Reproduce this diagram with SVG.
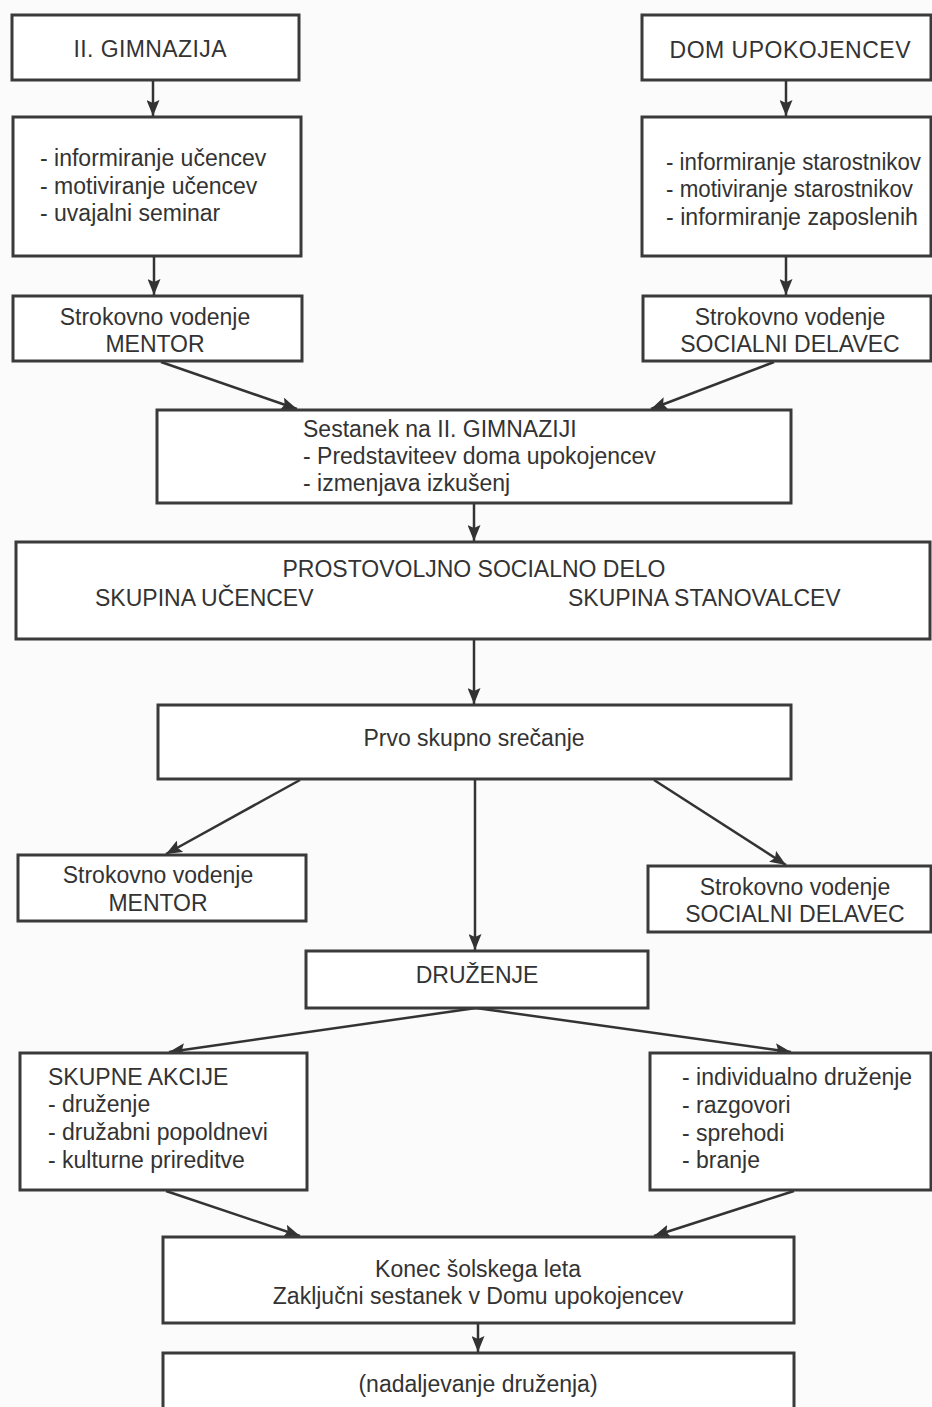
<svg xmlns="http://www.w3.org/2000/svg" width="932" height="1407" viewBox="0 0 932 1407">
<defs>
<marker id="ah" viewBox="0 0 16 13" refX="16" refY="6.5" markerWidth="16" markerHeight="13" markerUnits="userSpaceOnUse" orient="auto">
<path d="M0,0 L16,6.5 L0,13 L3,6.5 Z" fill="#333"/>
</marker>
<style>
.box{fill:#fff;stroke:#3a3a3a;stroke-width:3}
.t{font-family:"Liberation Sans",Arial,Helvetica,sans-serif;font-size:23px;fill:#333}
.m{text-anchor:middle}
.c{stroke:#333;stroke-width:2.5;fill:none;marker-end:url(#ah)}
</style>
</defs>
<rect width="932" height="1407" fill="#fbfbfb"/>

<g id="connectors">
<line class="c" x1="153" y1="80" x2="153" y2="116"/>
<line class="c" x1="154" y1="256" x2="154" y2="295"/>
<line class="c" x1="786" y1="80" x2="786" y2="116"/>
<line class="c" x1="786" y1="256" x2="786" y2="295"/>
<line class="c" x1="161" y1="362" x2="297" y2="409"/>
<line class="c" x1="774" y1="362" x2="651" y2="409"/>
<line class="c" x1="474" y1="503" x2="474" y2="541"/>
<line class="c" x1="474" y1="640" x2="474" y2="704"/>
<line class="c" x1="300" y1="780" x2="166" y2="854"/>
<line class="c" x1="654" y1="780" x2="786" y2="865"/>
<line class="c" x1="475" y1="780" x2="475" y2="950"/>
<line class="c" x1="476" y1="1008" x2="169" y2="1052"/>
<line class="c" x1="476" y1="1008" x2="791" y2="1052"/>
<line class="c" x1="166" y1="1191" x2="300" y2="1236"/>
<line class="c" x1="794" y1="1191" x2="654" y2="1236"/>
<line class="c" x1="478" y1="1324" x2="478" y2="1352"/>
</g>

<g id="gimnazija">
<rect class="box" x="12" y="15" width="287" height="65"/>
<text class="t m" x="150" y="57" textLength="153">II. GIMNAZIJA</text>
</g>
<g id="dom">
<rect class="box" x="642" y="15" width="289" height="65"/>
<text class="t m" x="790" y="58" textLength="241">DOM UPOKOJENCEV</text>
</g>
<g id="ucenci-info">
<rect class="box" x="13" y="117" width="288" height="139"/>
<text class="t" x="40" y="166">- informiranje učencev</text>
<text class="t" x="40" y="194">- motiviranje učencev</text>
<text class="t" x="40" y="221">- uvajalni seminar</text>
</g>
<g id="starostniki-info">
<rect class="box" x="642" y="117" width="289" height="139"/>
<text class="t" x="666" y="170" textLength="255" lengthAdjust="spacingAndGlyphs">- informiranje starostnikov</text>
<text class="t" x="666" y="197" textLength="247" lengthAdjust="spacingAndGlyphs">- motiviranje starostnikov</text>
<text class="t" x="666" y="225" textLength="252" lengthAdjust="spacingAndGlyphs">- informiranje zaposlenih</text>
</g>
<g id="mentor1">
<rect class="box" x="13" y="296" width="289" height="65"/>
<text class="t m" x="155" y="325">Strokovno vodenje</text>
<text class="t m" x="155" y="352">MENTOR</text>
</g>
<g id="socialni1">
<rect class="box" x="643" y="296" width="288" height="65"/>
<text class="t m" x="790" y="325">Strokovno vodenje</text>
<text class="t m" x="790" y="352">SOCIALNI DELAVEC</text>
</g>
<g id="sestanek">
<rect class="box" x="157" y="410" width="634" height="93"/>
<text class="t" x="303" y="437">Sestanek na II. GIMNAZIJI</text>
<text class="t" x="303" y="464">- Predstaviteev doma upokojencev</text>
<text class="t" x="303" y="491">- izmenjava izkušenj</text>
</g>
<g id="prostovoljno">
<rect class="box" x="16" y="542" width="914" height="97"/>
<text class="t m" x="474" y="577">PROSTOVOLJNO SOCIALNO DELO</text>
<text class="t" x="95" y="606">SKUPINA UČENCEV</text>
<text class="t" x="568" y="606">SKUPINA STANOVALCEV</text>
</g>
<g id="prvo">
<rect class="box" x="158" y="705" width="633" height="74"/>
<text class="t m" x="474" y="746">Prvo skupno srečanje</text>
</g>
<g id="mentor2">
<rect class="box" x="18" y="855" width="288" height="66"/>
<text class="t m" x="158" y="883">Strokovno vodenje</text>
<text class="t m" x="158" y="911">MENTOR</text>
</g>
<g id="socialni2">
<rect class="box" x="648" y="866" width="283" height="66"/>
<text class="t m" x="795" y="895">Strokovno vodenje</text>
<text class="t m" x="795" y="922">SOCIALNI DELAVEC</text>
</g>
<g id="druzenje">
<rect class="box" x="306" y="951" width="342" height="57"/>
<text class="t m" x="477" y="983">DRUŽENJE</text>
</g>
<g id="skupne">
<rect class="box" x="20" y="1053" width="287" height="137"/>
<text class="t" x="48" y="1085">SKUPNE AKCIJE</text>
<text class="t" x="48" y="1112">- druženje</text>
<text class="t" x="48" y="1140">- družabni popoldnevi</text>
<text class="t" x="48" y="1168">- kulturne prireditve</text>
</g>
<g id="individualno">
<rect class="box" x="650" y="1053" width="281" height="137"/>
<text class="t" x="682" y="1085">- individualno druženje</text>
<text class="t" x="682" y="1113">- razgovori</text>
<text class="t" x="682" y="1141">- sprehodi</text>
<text class="t" x="682" y="1168">- branje</text>
</g>
<g id="konec">
<rect class="box" x="163" y="1237" width="631" height="86"/>
<text class="t m" x="478" y="1277">Konec šolskega leta</text>
<text class="t m" x="478" y="1304">Zaključni sestanek v Domu upokojencev</text>
</g>
<g id="nadaljevanje">
<rect class="box" x="163" y="1353" width="631" height="70"/>
<text class="t m" x="478" y="1392">(nadaljevanje druženja)</text>
</g>
</svg>
